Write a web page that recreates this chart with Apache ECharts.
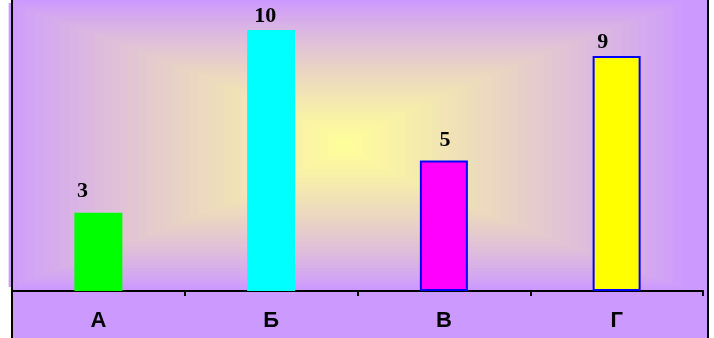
<html>
<head>
<meta charset="utf-8">
<title>Диаграмма</title>
<script src="https://cdn.jsdelivr.net/npm/echarts@6/dist/echarts.min.js"></script>
</head>
<body style="margin:0">
	<div id="main" style="width: 714px; height: 338px;"></div>
	<script type="text/javascript">
		// данные
		var categories = ['А', 'Б', 'В', 'Г'];
		var values = [3, 10, 5, 9];
		var barColors = ['#00ff00', '#00ffff', '#ff00ff', '#ffff00'];
		var barBorders = [0, 0, 2, 2];
		var labelShift = [[-16, -7], [-6, 0], [1, -6], [-14, 0]];

		var myChart = echarts.init(document.getElementById('main'));

		// фон: прямоугольный градиент от жёлтого в центре к сиреневому
		function mix(a, b, t) {
			var r = Math.round(a[0] + (b[0] - a[0]) * t);
			var g = Math.round(a[1] + (b[1] - a[1]) * t);
			var bl = Math.round(a[2] + (b[2] - a[2]) * t);
			return 'rgb(' + r + ',' + g + ',' + bl + ')';
		}
		var purple = [204, 153, 255], yellow = [255, 255, 153];
		var graphics = [
			{ type: 'rect', shape: { x: 12, y: 0, width: 696, height: 338 }, style: { fill: '#cc99ff' }, z: -10 }
		];
		var cx = 345, cy = 145, hw = 345, hh = 145, steps = 40;
		for (var i = 1; i < steps; i++) {
			var s = 1 - i / steps;
			var w = Math.max(hw * s, 0), h = Math.max(hh * Math.pow(s, 0.85), 0);
			graphics.push({
				type: 'rect',
				shape: { x: cx - w, y: cy - h, width: w * 2, height: h * 2 },
				style: { fill: mix(purple, yellow, Math.pow(i / steps, 0.85)) },
				z: -10 + i * 0.01, silent: true
			});
		}
		graphics.push({ type: 'line', shape: { x1: 12, y1: 0, x2: 12, y2: 338 }, style: { stroke: '#000', lineWidth: 2 }, z: 10 });
		graphics.push({ type: 'line', shape: { x1: 708, y1: 0, x2: 708, y2: 338 }, style: { stroke: '#000', lineWidth: 2 }, z: 10 });

		var barData = [];
		for (var k = 0; k < values.length; k++) {
			barData.push({
				value: values[k],
				itemStyle: { color: barColors[k], borderColor: '#0000ff', borderWidth: barBorders[k] },
				label: { offset: labelShift[k] }
			});
		}

		myChart.setOption({
			backgroundColor: '#ffffff',
			animation: false,
			graphic: graphics,
			grid: { left: 12, right: 11, top: 30, bottom: 47 },
			xAxis: {
				type: 'category',
				data: categories,
				axisLine: { lineStyle: { color: '#000', width: 2 } },
				axisTick: { show: true, length: 5, lineStyle: { color: '#000', width: 2 } },
				axisLabel: { color: '#000', fontFamily: 'Liberation Sans', fontWeight: 'bold', fontSize: 22, margin: 19 }
			},
			yAxis: { type: 'value', min: 0, max: 10, show: false, splitLine: { show: false } },
			series: [{
				type: 'bar',
				barWidth: 48,
				data: barData,
				label: {
					show: true, position: 'top', distance: 3, color: '#000',
					fontFamily: 'Liberation Serif', fontWeight: 'bold', fontSize: 22
				}
			}]
		});
	</script>
</body>
</html>
